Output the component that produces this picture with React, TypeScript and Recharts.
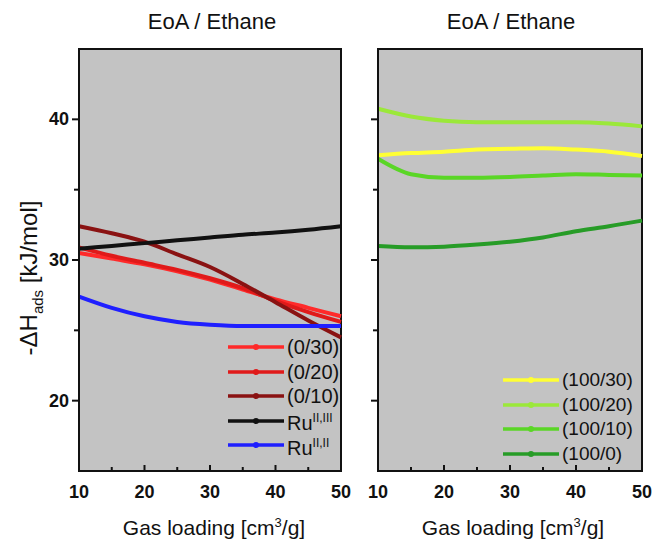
import React from "react";
import { LineChart, Line, XAxis, YAxis, ReferenceArea } from "recharts";

// gas loading, cm3/g
const loading = [10, 15, 20, 25, 30, 35, 40, 45, 50];

// -dH_ads, kJ/mol, EoA series
const eoa0_30 = [30.5, 30.1, 29.7, 29.2, 28.6, 27.9, 27.2, 26.6, 26.0];
const eoa0_20 = [30.9, 30.3, 29.8, 29.3, 28.7, 28.0, 27.1, 26.3, 25.6];
const eoa0_10 = [32.4, 31.9, 31.3, 30.4, 29.5, 28.3, 27.0, 25.7, 24.5];
const ruII_III = [30.8, 31.0, 31.2, 31.4, 31.6, 31.8, 31.95, 32.15, 32.4];
const ruII_II = [27.4, 26.6, 26.0, 25.6, 25.4, 25.3, 25.3, 25.3, 25.3];

const eoa100_30 = [37.45, 37.6, 37.7, 37.85, 37.9, 37.95, 37.85, 37.7, 37.4];
const eoa100_20 = [40.75, 40.2, 39.9, 39.8, 39.8, 39.8, 39.8, 39.7, 39.5];
const eoa100_10 = [37.2, 36.1, 35.85, 35.85, 35.9, 36.0, 36.1, 36.05, 36.0];
const eoa100_0 = [31.0, 30.9, 30.95, 31.1, 31.3, 31.6, 32.05, 32.4, 32.8];

const xTicks = [10, 15, 20, 25, 30, 35, 40, 45, 50];
const yTicks = [20, 25, 30, 35, 40];

const leftSeries = [
  { key: "a", name: "(0/30)", data: eoa0_30, color: "#ff2a2a" },
  { key: "b", name: "(0/20)", data: eoa0_20, color: "#e01a1a" },
  { key: "c", name: "(0/10)", data: eoa0_10, color: "#8a1212" },
  { key: "d", name: "Ru", sup: "II,III", data: ruII_III, color: "#111111" },
  { key: "e", name: "Ru", sup: "II,II", data: ruII_II, color: "#1f1fff" },
];

const rightSeries = [
  { key: "a", name: "(100/30)", data: eoa100_30, color: "#ffff33" },
  { key: "b", name: "(100/20)", data: eoa100_20, color: "#9be83a" },
  { key: "c", name: "(100/10)", data: eoa100_10, color: "#5ad626" },
  { key: "d", name: "(100/0)", data: eoa100_0, color: "#279c27" },
];

const toRows = (series: any[]) =>
  loading.map((x, i) => {
    const row: any = { x };
    series.forEach((s) => (row[s.key] = s.data[i]));
    return row;
  });

const font = "'Liberation Sans', Arial, sans-serif";
const ink = "#111";

const XTick = ({ x, y, payload }: any) => {
  const major = payload.value % 10 === 0;
  return (
    <g>
      <line x1={x} x2={x} y1={y} y2={y - (major ? 6 : 4)} stroke={ink} strokeWidth={2} />
      {major && (
        <text x={x} y={y + 27} textAnchor="middle" fontWeight="bold" fontSize={18} fontFamily={font} fill={ink}>
          {payload.value}
        </text>
      )}
    </g>
  );
};

const YTick = ({ x, y, payload, showLabel }: any) => {
  const major = payload.value % 10 === 0;
  return (
    <g>
      <line x1={x} x2={x - (major ? 7 : 5)} y1={y} y2={y} stroke={ink} strokeWidth={2} />
      {major && showLabel && (
        <text x={x - 10} y={y + 6} textAnchor="end" fontWeight="bold" fontSize={18} fontFamily={font} fill={ink}>
          {payload.value}
        </text>
      )}
    </g>
  );
};

function Panel({ series, width, axisWidth, right, showLabels }: any) {
  return (
    <LineChart
      width={width}
      height={543}
      data={toRows(series)}
      margin={{ top: 49, right, bottom: 42, left: 0 }}
      style={{ overflow: "visible" }}
    >
      <ReferenceArea x1={10} x2={50} y1={15} y2={45} fill="#c3c3c3" fillOpacity={1} stroke={ink} strokeWidth={2} />
      <XAxis
        dataKey="x"
        type="number"
        domain={[10, 50]}
        ticks={xTicks}
        interval={0}
        height={30}
        tickSize={0}
        tickMargin={0}
        tick={<XTick />}
        axisLine={{ stroke: ink, strokeWidth: 2 }}
      />
      <YAxis
        type="number"
        domain={[15, 45]}
        ticks={yTicks}
        interval={0}
        width={axisWidth}
        tickSize={0}
        tickMargin={0}
        tick={<YTick showLabel={showLabels} />}
        axisLine={{ stroke: ink, strokeWidth: 2 }}
      />
      {series.map((s: any) => (
        <Line
          key={s.key}
          dataKey={s.key}
          type="monotone"
          stroke={s.color}
          strokeWidth={4}
          dot={false}
          isAnimationActive={false}
        />
      ))}
    </LineChart>
  );
}

function Legend({ series, left, top, size }: any) {
  return (
    <div style={{ position: "absolute", left, top, fontFamily: font, fontSize: size, color: ink }}>
      {series.map((s: any) => (
        <div key={s.key} style={{ display: "flex", alignItems: "center", height: 24.5 }}>
          <svg width={56} height={12} style={{ marginRight: 3 }}>
            <line x1={0} x2={56} y1={6} y2={6} stroke={s.color} strokeWidth={3.5} />
            <circle cx={28} cy={6} r={3} fill={s.color} />
          </svg>
          <span style={{ lineHeight: "20px" }}>
            {s.name}
            {s.sup && <sup style={{ fontSize: 12, verticalAlign: 8 }}>{s.sup}</sup>}
          </span>
        </div>
      ))}
    </div>
  );
}

const textBox = (cx: number, top: number, size: number): React.CSSProperties => ({
  position: "absolute",
  left: cx - 150,
  width: 300,
  top,
  textAlign: "center",
  fontFamily: font,
  fontSize: size,
  color: ink,
  whiteSpace: "nowrap",
});

export default function App() {
  return (
    <div style={{ position: "absolute", left: 0, top: 0, width: 654, height: 543, background: "#fff", overflow: "hidden" }}>
      <div style={{ position: "absolute", left: 0, top: 0 }}>
        <Panel series={leftSeries} width={360} axisWidth={79} right={19} showLabels />
      </div>
      <div style={{ position: "absolute", left: 360, top: 0 }}>
        <Panel series={rightSeries} width={294} axisWidth={18} right={12} showLabels={false} />
      </div>

      <div style={textBox(212, 9, 22)}>EoA / Ethane</div>
      <div style={textBox(511, 9, 22)}>EoA / Ethane</div>

      <div style={textBox(214, 515, 21)}>
        Gas loading [cm<sup style={{ fontSize: 13 }}>3</sup>/g]
      </div>
      <div style={textBox(513, 515, 21)}>
        Gas loading [cm<sup style={{ fontSize: 13 }}>3</sup>/g]
      </div>

      <svg width={60} height={543} style={{ position: "absolute", left: 0, top: 0 }}>
        <text
          transform="translate(37 278) rotate(-90)"
          textAnchor="middle"
          fontFamily={font}
          fontSize={24}
          fill={ink}
        >
          -ΔH<tspan fontSize={15} dy={6}>ads</tspan>
          <tspan dy={-6}> [kJ/mol]</tspan>
        </text>
      </svg>

      <Legend series={leftSeries} left={228} top={335} size={20} />
      <Legend series={rightSeries} left={503} top={368} size={19} />
    </div>
  );
}
